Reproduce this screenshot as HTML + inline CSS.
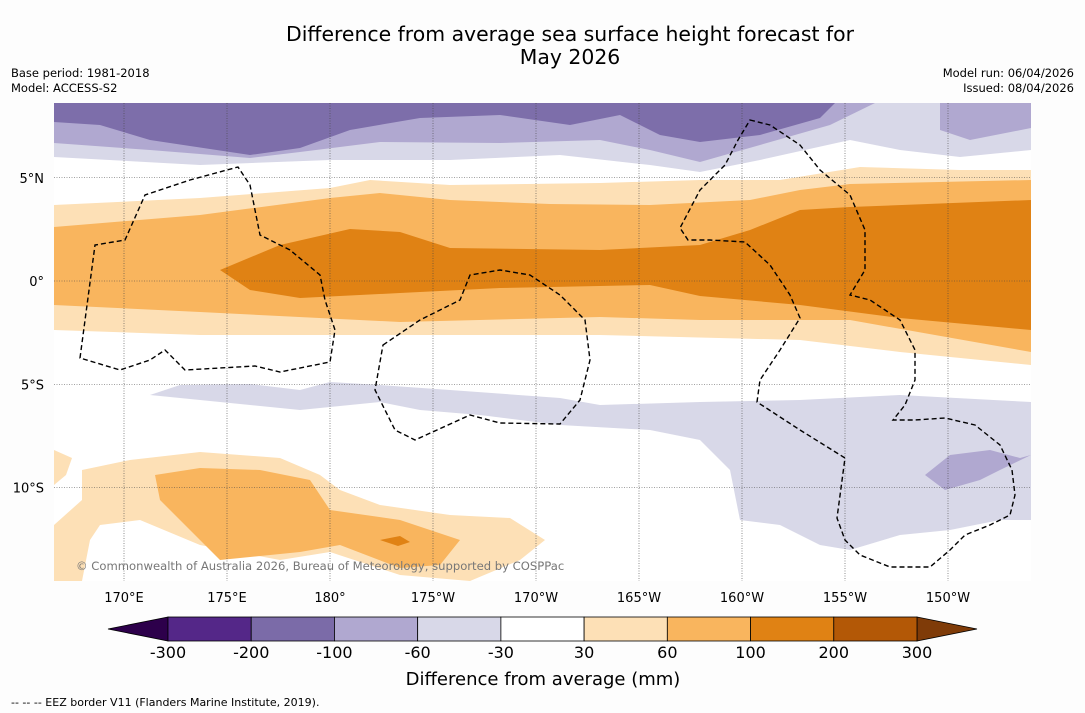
<!DOCTYPE html>
<html><head><meta charset="utf-8">
<style>
body{margin:0;background:#fff;font-family:"DejaVu Sans","Liberation Sans",sans-serif;}
svg{display:block;font-family:"DejaVu Sans","Liberation Sans",sans-serif;}
</style></head>
<body>
<svg id="chart" width="1085" height="713" viewBox="0 0 1085 713">
<rect x="0" y="0" width="1085" height="713" fill="#fdfdfd"/>
<text x="570" y="41" font-size="20.4" text-anchor="middle">Difference from average sea surface height forecast for</text>
<text x="570" y="64" font-size="20.4" text-anchor="middle">May 2026</text>
<text x="11" y="77" font-size="11.5">Base period: 1981-2018</text>
<text x="11" y="92" font-size="11.5">Model: ACCESS-S2</text>
<text x="1074" y="77" font-size="11.5" text-anchor="end">Model run: 06/04/2026</text>
<text x="1074" y="92" font-size="11.5" text-anchor="end">Issued: 08/04/2026</text>

<defs><clipPath id="mapclip"><rect x="54" y="103" width="977" height="478"/></clipPath></defs>
<g clip-path="url(#mapclip)">
<rect x="54" y="103" width="977" height="478" fill="#ffffff"/>
<path fill="#d8d8e8" d="M54,103 L1031,103 L1031,150 L960,157 L900,150 L850,140 L760,160 L700,172 L650,165 L560,155 L450,160 L330,160 L200,165 L54,157 Z"/>
<path fill="#b0a8d0" d="M54,103 L875,103 L830,125 L760,145 L700,162 L650,150 L600,140 L500,143 L380,142 L300,152 L250,158 L150,150 L54,143 Z"/>
<path fill="#b0a8d0" d="M940,103 L1031,103 L1031,128 L970,140 L940,130 Z"/>
<path fill="#7d6eaa" d="M54,103 L835,103 L820,118 L760,135 L700,142 L660,135 L620,115 L570,125 L500,115 L420,118 L350,130 L300,148 L250,155 L150,140 L100,125 L54,122 Z"/>
<path fill="#fde0b6" d="M54,205 L200,198 L330,188 L370,180 L450,185 L600,183 L700,180 L780,180 L860,167 L960,170 L1031,170 L1031,365 L900,352 L800,340 L600,335 L400,335 L200,335 L54,330 Z"/>
<path fill="#f9b55e" d="M54,227 L200,215 L330,198 L380,193 L450,200 L550,204 L650,205 L750,200 L800,190 L850,184 L1031,180 L1031,352 L850,320 L700,320 L600,317 L400,322 L200,312 L54,305 Z"/>
<path fill="#e08214" d="M220,270 L280,245 L350,229 L400,232 L450,248 L600,250 L700,245 L750,230 L800,210 L850,207 L1031,200 L1031,330 L900,318 L800,305 L700,296 L650,285 L500,288 L400,293 L300,298 L250,290 Z"/>
<path fill="#d8d8e8" d="M150,395 L180,385 L250,384 L300,390 L330,382 L380,385 L450,390 L560,398 L600,405 L700,402 L800,400 L900,395 L1031,402 L1031,520 L1000,520 L950,530 L900,535 L850,550 L820,545 L780,525 L740,520 L730,470 L700,440 L650,430 L560,425 L480,415 L420,410 L380,402 L300,410 L250,405 L200,400 Z"/>
<path fill="#b0a8d0" d="M925,475 L950,455 L990,450 L1020,458 L1031,455 L1000,470 L980,480 L945,490 Z"/>
<path fill="#fde0b6" d="M54,450 L72,458 L66,475 L54,485 Z"/>
<path fill="#fde0b6" d="M82,470 L130,460 L200,452 L280,458 L320,475 L340,490 L380,505 L450,515 L510,518 L545,540 L520,560 L470,581 L400,575 L330,552 L280,560 L200,545 L140,520 L100,525 L90,540 L82,581 L54,581 L54,525 L82,500 Z"/>
<path fill="#f9b55e" d="M155,475 L200,468 L260,470 L310,480 L330,510 L400,520 L460,540 L440,565 L400,568 L340,545 L300,552 L220,560 L200,540 L160,500 Z"/>
<path fill="#e08214" d="M380,540 L400,536 L410,542 L398,546 Z"/>
<g id="grid" stroke="#444" stroke-width="0.6" stroke-dasharray="1,1.5"></g>
<g fill="none" stroke="#000" stroke-width="1.4" stroke-dasharray="5,3">
<path d="M80,358 L95,245 L125,240 L145,195 L190,180 L238,167 L250,185 L260,235 L290,250 L320,275 L325,300 L335,330 L330,362 L280,372 L255,366 L185,370 L165,350 L150,360 L120,370 Z"/>
<path d="M383,345 L420,320 L460,300 L470,275 L500,270 L530,275 L560,295 L585,320 L590,360 L580,400 L560,424 L500,423 L470,415 L415,440 L395,430 L375,390 Z"/>
<path d="M750,120 L770,125 L800,145 L820,170 L850,195 L865,230 L865,270 L850,295 L870,300 L900,320 L915,350 L915,380 L905,405 L893,420 L915,420 L945,418 L975,425 L1000,445 L1012,470 L1015,495 L1010,515 L990,525 L965,535 L950,550 L930,567 L890,567 L860,555 L845,540 L837,518 L845,458 L800,430 L757,402 L760,380 L780,350 L800,318 L790,295 L770,265 L745,242 L710,240 L688,240 L680,228 L700,190 L725,165 L738,140 Z"/>
</g>
<text x="76" y="570" font-size="11.6" fill="#777">© Commonwealth of Australia 2026, Bureau of Meteorology, supported by COSPPac</text>
</g>
<g id="axes"></g>
<g id="colorbar"></g>
<text x="543" y="685" font-size="18" text-anchor="middle">Difference from average (mm)</text>
<text x="11" y="706" font-size="11">--  --  -- EEZ border V11 (Flanders Marine Institute, 2019).</text>
</svg>
<script>
const lonTicks = [170,175,180,-175,-170,-165,-160,-155,-150];
const lonLabels = ["170°E","175°E","180°","175°W","170°W","165°W","160°W","155°W","150°W"];
const latTicks = [5,0,-5,-10];
const latLabels = ["5°N","0°","5°S","10°S"];
const levels = [-300,-200,-100,-60,-30,30,60,100,200,300];
const levelColors = ["#542788","#7b6ba8","#b0a8d0","#d8d8e8","#ffffff","#fde0b6","#f9b55e","#e08214","#b35806"];
const NS = "http://www.w3.org/2000/svg";
function xLon(l){ const e = l<0 ? 360+l : l; return 124 + (e-170)*20.6; }
function yLat(l){ return 281 - l*20.65; }
const grid = document.getElementById('grid');
const axes = document.getElementById('axes');
lonTicks.forEach((l,i)=>{
  const x = xLon(l);
  const ln = document.createElementNS(NS,'line');
  ln.setAttribute('x1',x);ln.setAttribute('x2',x);ln.setAttribute('y1',103);ln.setAttribute('y2',581);
  
  
  grid.appendChild(ln);
  const t = document.createElementNS(NS,'text');
  t.setAttribute('x',x);t.setAttribute('y',602);t.setAttribute('font-size','13');t.setAttribute('text-anchor','middle');
  t.textContent = lonLabels[i];
  
  
  axes.appendChild(t);
});
latTicks.forEach((l,i)=>{
  const y = yLat(l);
  const ln = document.createElementNS(NS,'line');
  ln.setAttribute('x1',54);ln.setAttribute('x2',1031);ln.setAttribute('y1',y);ln.setAttribute('y2',y);
  
  
  grid.appendChild(ln);
  const t = document.createElementNS(NS,'text');
  t.setAttribute('x',44);t.setAttribute('y',y+5);t.setAttribute('font-size','13');t.setAttribute('text-anchor','end');
  t.textContent = latLabels[i];
  
  
  axes.appendChild(t);
});
const cb = document.getElementById('colorbar');
const cbX0 = 168, cbX1 = 917, cbY = 617, cbH = 24;
const w = (cbX1-cbX0)/levelColors.length;
const lt = document.createElementNS(NS,'polygon');
lt.setAttribute('points',`${cbX0},${cbY} ${108},${cbY+cbH/2} ${cbX0},${cbY+cbH}`);
lt.setAttribute('fill','#2d004b');lt.setAttribute('stroke','#000');lt.setAttribute('stroke-width','0.8');


cb.appendChild(lt);
const rt = document.createElementNS(NS,'polygon');
rt.setAttribute('points',`${cbX1},${cbY} ${977},${cbY+cbH/2} ${cbX1},${cbY+cbH}`);
rt.setAttribute('fill','#7f3b08');rt.setAttribute('stroke','#000');rt.setAttribute('stroke-width','0.8');


cb.appendChild(rt);
levelColors.forEach((c,i)=>{
  const r = document.createElementNS(NS,'rect');
  r.setAttribute('x',cbX0+i*w);r.setAttribute('y',cbY);r.setAttribute('width',w);r.setAttribute('height',cbH);
  r.setAttribute('fill',c);r.setAttribute('stroke','#000');r.setAttribute('stroke-width','0.8');
  
  
  cb.appendChild(r);
});
levels.forEach((v,i)=>{
  const t = document.createElementNS(NS,'text');
  t.setAttribute('x',cbX0+i*w);t.setAttribute('y',658);t.setAttribute('font-size','16');t.setAttribute('text-anchor','middle');
  t.textContent = v;
  
  
  cb.appendChild(t);
});
</script>
</body></html>
